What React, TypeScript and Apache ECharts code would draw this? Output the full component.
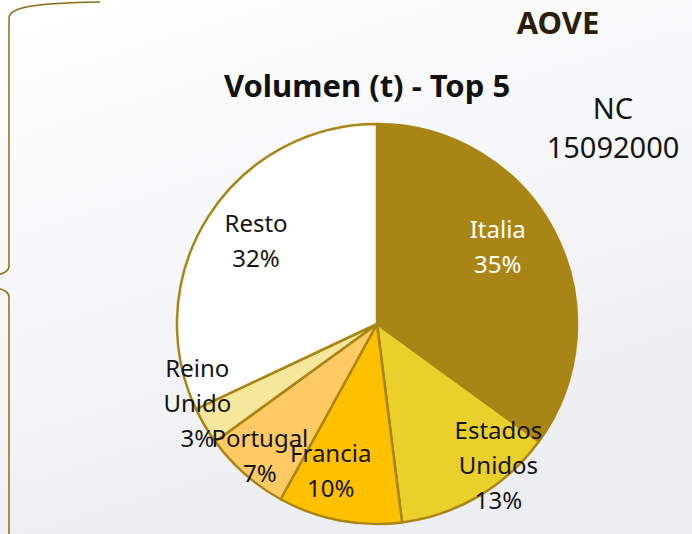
import React, { useEffect, useRef } from "react";
import * as echarts from "echarts";

const CATEGORIES = ["Italia", "Estados Unidos", "Francia", "Portugal", "Reino Unido", "Resto"];
const VALUES = [35, 13, 10, 7, 3, 32];
const TITLE = "Volumen (t) - Top 5";
const HEADER = "AOVE";
const CODE_LABEL = "NC";
const CODE_VALUE = "15092000";

const COLORS = ["#A98515", "#EAD02B", "#FFC000", "#FFCA64", "#F5E79C", "#FFFFFF"];
const LABEL_COLORS = ["#FFFFFF", "#141414", "#141414", "#141414", "#141414", "#141414"];
const LABEL_SHIFT: [number, number][] = [
  [29, -31],
  [69, 52],
  [-27, 45],
  [-49, 54],
  [-91, 26],
  [-34, -29],
];

const FONT = "'Noto Sans', sans-serif";
const BRACE = "#8C6B12";

export default function App() {
  const ref = useRef<HTMLDivElement>(null);
  useEffect(() => {
    if (!ref.current) return;
    const chart = echarts.init(ref.current, null, { renderer: "svg" });
    const data = CATEGORIES.map((name, i) => ({
      name,
      value: VALUES[i],
      itemStyle: { color: COLORS[i] },
      label: { color: LABEL_COLORS[i] },
    }));
    chart.setOption({
      animation: false,
      backgroundColor: new echarts.graphic.LinearGradient(0, 0, 0.4, 1, [
        { offset: 0, color: "#ffffff" },
        { offset: 1, color: "#eceef1" },
      ]),
      title: {
        text: TITLE,
        left: 362,
        top: 64,
        textAlign: "center",
        textStyle: { fontFamily: FONT, fontWeight: "bold", fontSize: 31, color: "#111111" },
      },
      graphic: [
        {
          type: "text",
          x: 558,
          y: 22,
          style: {
            text: HEADER,
            fontFamily: FONT,
            fontWeight: "bold",
            fontSize: 31,
            fill: "#2A1F08",
            align: "center",
            verticalAlign: "middle",
          },
        },
        {
          type: "text",
          x: 613,
          y: 127,
          style: {
            text: CODE_LABEL + "\n" + CODE_VALUE,
            fontFamily: FONT,
            fontSize: 29,
            lineHeight: 39,
            fill: "#141414",
            align: "center",
            verticalAlign: "middle",
          },
        },
        {
          type: "bezierCurve",
          shape: { x1: 100, y1: 2, cpx1: 35, cpy1: 3, cpx2: 9, cpy2: 7, x2: 9, y2: 18 },
          style: { stroke: BRACE, lineWidth: 1.5, fill: null },
        },
        {
          type: "line",
          shape: { x1: 9, y1: 18, x2: 9, y2: 266 },
          style: { stroke: BRACE, lineWidth: 1.5 },
        },
        {
          type: "bezierCurve",
          shape: { x1: 9, y1: 266, cpx1: 9, cpy1: 271, cpx2: 4, cpy2: 273, x2: -2, y2: 275 },
          style: { stroke: BRACE, lineWidth: 1.5, fill: null },
        },
        {
          type: "bezierCurve",
          shape: { x1: -2, y1: 288, cpx1: 4, cpy1: 290, cpx2: 9, cpy2: 292, x2: 9, y2: 297 },
          style: { stroke: BRACE, lineWidth: 1.5, fill: null },
        },
        {
          type: "line",
          shape: { x1: 9, y1: 297, x2: 9, y2: 540 },
          style: { stroke: BRACE, lineWidth: 1.5 },
        },
      ],
      series: [
        {
          type: "pie",
          center: [377, 324],
          radius: 200,
          startAngle: 90,
          clockwise: true,
          avoidLabelOverlap: false,
          silent: true,
          emphasis: { disabled: true },
          itemStyle: { borderColor: "#A98515", borderWidth: 2.5 },
          label: {
            show: true,
            position: "inside",
            fontFamily: FONT,
            fontSize: 24,
            lineHeight: 35,
            align: "center",
            formatter: (p: any) => p.name.replace(" ", "\n") + "\n" + Math.round(p.percent) + "%",
          },
          labelLine: { show: false },
          labelLayout: (p: any) => ({
            dx: LABEL_SHIFT[p.dataIndex][0],
            dy: LABEL_SHIFT[p.dataIndex][1],
            hideOverlap: false,
          }),
          data,
        },
      ],
    });
    return () => chart.dispose();
  }, []);
  return (
    <div
      ref={ref}
      style={{ position: "fixed", left: 0, top: 0, width: 692, height: 534 }}
    />
  );
}
